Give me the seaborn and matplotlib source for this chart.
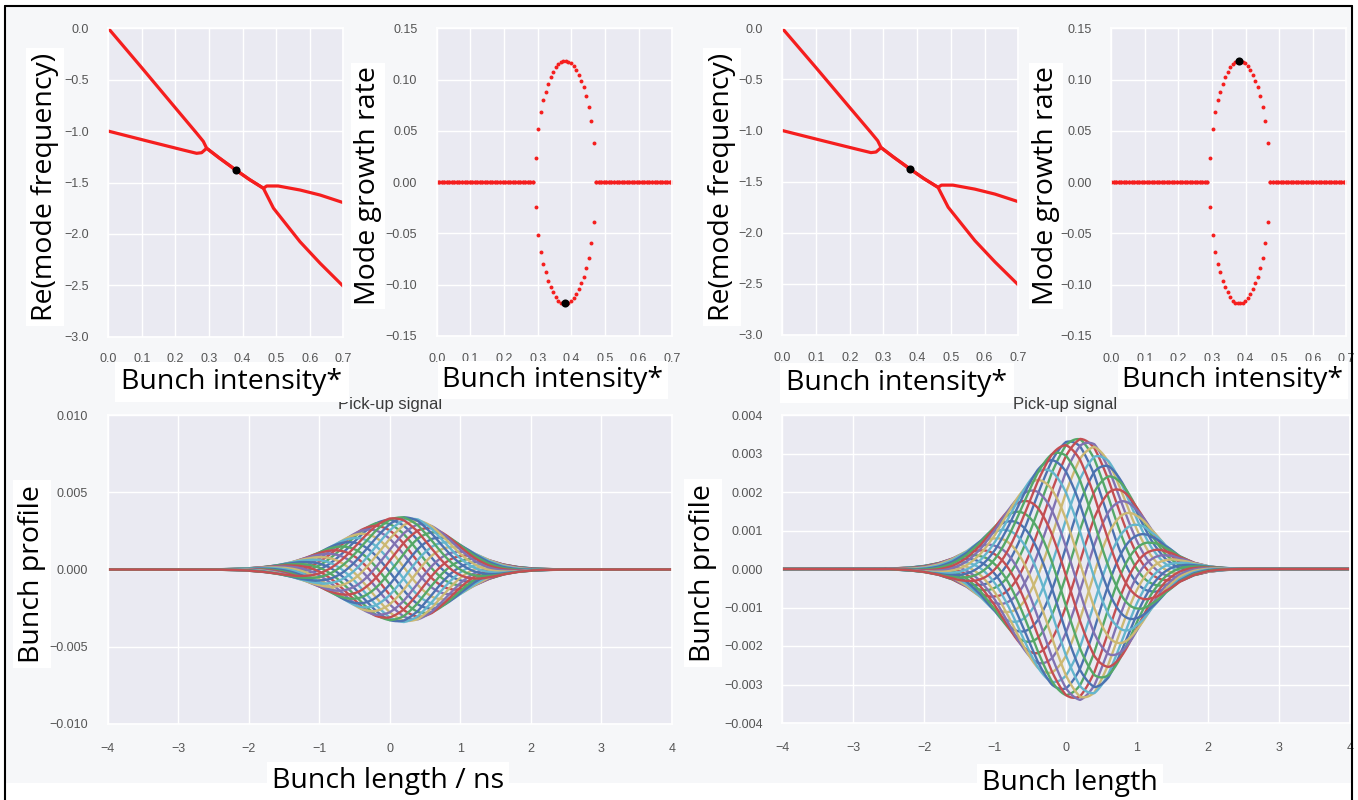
import numpy as np
import pandas as pd
import seaborn as sns
import matplotlib.pyplot as plt
from matplotlib.lines import Line2D
from matplotlib.patches import Rectangle

# ---------------- data ----------------
# Re(mode frequency) vs bunch intensity, two coupled modes
mode_a_intensity = [0.0, 0.1, 0.2, 0.263, 0.283, 0.293, 0.33, 0.377, 0.42, 0.462,
                    0.467, 0.492, 0.571, 0.631, 0.7]
mode_a_freq = [0.0, -0.385, -0.775, -1.02, -1.10, -1.167, -1.26, -1.372, -1.47, -1.556,
               -1.589, -1.75, -2.076, -2.286, -2.51]
mode_b_intensity = [0.0, 0.124, 0.223, 0.263, 0.278, 0.293, 0.33, 0.377, 0.42, 0.462,
                    0.472, 0.506, 0.571, 0.631, 0.7]
mode_b_freq = [-1.0, -1.103, -1.184, -1.216, -1.21, -1.167, -1.26, -1.372, -1.47, -1.556,
               -1.534, -1.534, -1.573, -1.622, -1.696]

# growth rate: unstable region dots (upper half; lower half mirrors it)
unstable_intensity = [0.294, 0.3015, 0.309, 0.3165, 0.324, 0.3315, 0.339, 0.3465, 0.354,
                      0.3615, 0.369, 0.3765, 0.384, 0.3915, 0.399, 0.4065, 0.414, 0.4215,
                      0.429, 0.4365, 0.444, 0.4515, 0.459, 0.4665]
unstable_growth = [0.024, 0.052, 0.068, 0.080, 0.088, 0.096, 0.1026, 0.107, 0.112, 0.1155,
                   0.1175, 0.118, 0.118, 0.1175, 0.116, 0.113, 0.109, 0.1045, 0.0987,
                   0.0923, 0.0839, 0.0735, 0.0593, 0.0385]
stable_below = 0.293
stable_above = 0.47
n_intensity_steps = 94
marked_intensity = 0.38
marked_freq = -1.375
marked_growth = 0.118

# pick-up signal: envelope of the bunch profile snapshots, wave number, snapshot phases
envelope_x = [-4.0, -2.6, -2.4, -2.2, -2.0, -1.8, -1.6, -1.4, -1.2, -1.0, -0.8, -0.6, -0.4,
              -0.2, 0.0, 0.2, 0.4, 0.6, 0.8, 1.0, 1.2, 1.4, 1.6, 1.8, 2.0, 2.2, 2.4, 2.6, 4.0]
envelope_y = [0.0, 0.0, 0.0000174, 0.0000378, 0.0000776, 0.000149, 0.000271, 0.00046,
              0.000735, 0.0011, 0.00156, 0.00206, 0.00257, 0.0030, 0.0033, 0.0034, 0.00324,
              0.00281, 0.00222, 0.00159, 0.00104, 0.00062, 0.000334, 0.000164, 0.0000735,
              0.00003, 0.0000111, 0.0, 0.0]
wave_number = 1.8  # rad per ns
snapshot_phase_deg = [0, 13, 27, 40, 53, 67, 80, 93, 107, 120, 133, 147, 160, 173, 187,
                      200, 213, 227, 240, 253, 267, 280, 293, 307, 320, 333, 347]
deep6 = ["#4C72B0", "#55A868", "#C44E52", "#8172B2", "#CCB974", "#64B5CD"]

# ---------------- style ----------------
sns.set_theme(style="darkgrid", rc={"axes.facecolor": "#EAEAF2", "grid.color": "white",
                                    "grid.linewidth": 1.0})
plt.rcParams['font.family'] = ['Liberation Sans', 'DejaVu Sans']
RED = "#F51E1E"
TICK = dict(labelsize=9, labelcolor="#555555")

W, H = 1358, 800
fig = plt.figure(figsize=(W / 100, H / 100), dpi=100, facecolor="white")
fig.add_artist(Rectangle((5 / W, 1 - 783 / H), 1347 / W, 777 / H, transform=fig.transFigure,
                         facecolor="#F6F7F9", edgecolor="none", zorder=-10))


def px_axes(x0, y0, x1, y1):
    return fig.add_axes([x0 / W, 1 - y1 / H, (x1 - x0) / W, (y1 - y0) / H])


def big_text(x, y, s, rot=0, z=5, pad=3.5):
    fig.text(x / W, 1 - y / H, s, rotation=rot, ha="center", va="center", fontsize=20.5,
             family=["Open Sans", "DejaVu Sans"], color="black", zorder=z,
             bbox=dict(facecolor="white", edgecolor="none", pad=pad))


def small_title(x, y, s):
    fig.text(x / W, 1 - y / H, s, ha="center", va="center", fontsize=12, color="#3a3a3a",
             zorder=2)


grid = np.linspace(0, 0.7, n_intensity_steps)
stable_x = grid[(grid < stable_below) | (grid > stable_above)]


def freq_panel(ax):
    sns.lineplot(x=mode_a_intensity, y=mode_a_freq, sort=False, estimator=None, color=RED,
                 lw=2.3, ax=ax)
    sns.lineplot(x=mode_b_intensity, y=mode_b_freq, sort=False, estimator=None, color=RED,
                 lw=2.3, ax=ax)
    sns.scatterplot(x=[marked_intensity], y=[marked_freq], color="black", s=34,
                    linewidth=0, zorder=5, ax=ax)
    ax.set_xlim(0, 0.7)
    ax.set_ylim(-3.0, 0.0)
    ax.set_xticks(np.arange(0, 0.71, 0.1))
    ax.set_yticks(np.arange(-3.0, 0.01, 0.5))
    ax.tick_params(axis="x", pad=6, **TICK)
    ax.tick_params(axis="y", pad=8, **TICK)


def growth_panel(ax, mark_sign):
    sns.scatterplot(x=list(stable_x) * 2, y=[0.0] * (2 * len(stable_x)), color=RED, s=8,
                    linewidth=0, ax=ax)
    sns.scatterplot(x=unstable_intensity, y=unstable_growth, color=RED, s=8, linewidth=0, ax=ax)
    sns.scatterplot(x=unstable_intensity, y=[-g for g in unstable_growth], color=RED, s=8,
                    linewidth=0, ax=ax)
    sns.scatterplot(x=[marked_intensity], y=[mark_sign * marked_growth], color="black", s=34,
                    linewidth=0, zorder=5, ax=ax)
    ax.set_xlim(0, 0.7)
    ax.set_ylim(-0.15, 0.15)
    ax.set_xticks(np.arange(0, 0.71, 0.1))
    ax.set_yticks(np.arange(-0.15, 0.151, 0.05))
    ax.tick_params(axis="x", pad=6, **TICK)
    ax.tick_params(axis="y", pad=8, **TICK)


# profile snapshots
xs = np.linspace(-4, 4, 601)
env = np.interp(xs, envelope_x, envelope_y)
rows = []
for i, ph in enumerate(snapshot_phase_deg):
    y = env * np.cos(wave_number * xs - np.deg2rad(ph))
    rows.append(pd.DataFrame({"x": xs, "y": y, "snap": f"s{i:02d}"}))
prof = pd.concat(rows, ignore_index=True)
snaps = [f"s{i:02d}" for i in range(len(snapshot_phase_deg))]
pal = [deep6[i % 6] for i in range(len(snaps))]


def profile_panel(ax, ylim, yticks, order):
    sns.lineplot(data=prof, x="x", y="y", hue="snap", hue_order=order, palette=pal,
                 estimator=None, sort=False, lw=1.7, legend=False, ax=ax)
    ax.set_xlim(-4, 4)
    ax.set_ylim(*ylim)
    ax.set_xticks(np.arange(-4, 5, 1))
    ax.set_yticks(yticks)
    ax.set_xlabel("")
    ax.set_ylabel("")
    ax.tick_params(axis="x", pad=8, **TICK)
    ax.tick_params(axis="y", pad=8, **TICK)


ax1 = px_axes(108.3, 28.3, 343.3, 336.7)
freq_panel(ax1)
ax2 = px_axes(436.7, 28.3, 672.3, 336.0)
growth_panel(ax2, -1)
ax3 = px_axes(782.3, 28.3, 1018.3, 335.0)
freq_panel(ax3)
ax4 = px_axes(1111.3, 28.3, 1346.3, 336.0)
growth_panel(ax4, +1)

ax5 = px_axes(107.5, 415, 672, 724)
profile_panel(ax5, (-0.010, 0.010), np.linspace(-0.010, 0.010, 5), snaps[::-1])
ax6 = px_axes(782, 415, 1350, 723)
profile_panel(ax6, (-0.004, 0.004), np.linspace(-0.004, 0.004, 9), snaps)

for ax in (ax1, ax2, ax3, ax4):
    ax.set_xlabel("")
    ax.set_ylabel("")

small_title(390, 404, "Pick-up signal")
small_title(1065, 404, "Pick-up signal")

# y labels sit beneath the axes so tick labels stay visible
big_text(45, 187, "Re(mode frequency)", rot=90, z=-5)
big_text(368, 186, "Mode growth rate", rot=90, pad=2.5, z=-5)
big_text(722, 187, "Re(mode frequency)", rot=90, z=-5)
big_text(1046, 186, "Mode growth rate", rot=90, pad=2.5, z=-5)
big_text(32, 574, "Bunch profile", rot=90, z=-5)
big_text(703, 573, "Bunch profile", rot=90, z=-5)
# x labels above the small titles
big_text(232, 382, "Bunch intensity*", pad=4.5)
big_text(553, 380, "Bunch intensity*")
big_text(897, 383, "Bunch intensity*", pad=4.5)
big_text(1233, 380, "Bunch intensity*")
big_text(388, 781, "Bunch length / ns")
big_text(1070, 783, "Bunch length")

# frame lines
for (xa, ya, xb, yb) in [(5, 6, 1352, 6), (5, 6, 5, 800), (1352, 6, 1352, 800)]:
    fig.add_artist(Line2D([xa / W, xb / W], [1 - ya / H, 1 - yb / H], transform=fig.transFigure,
                          color="black", lw=1.5, zorder=10))

fig.savefig("out.png", dpi=100, facecolor=fig.get_facecolor())
